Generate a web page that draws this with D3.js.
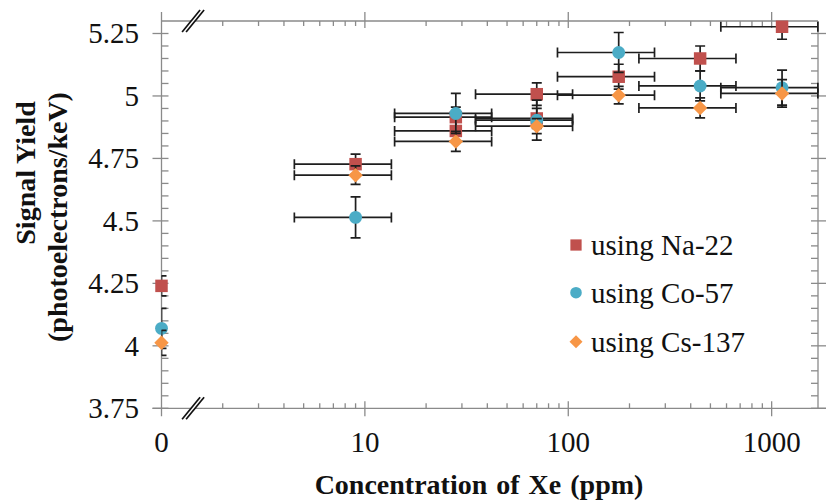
<!DOCTYPE html>
<html><head><meta charset="utf-8">
<script src="https://cdn.jsdelivr.net/npm/d3@7"></script>
<style>body{margin:0;background:#fff}svg{display:block}</style>
</head><body><svg id="c" width="828" height="504"></svg>
<script>
// ---- data ----
const xTickValues = [0, 10, 100, 1000];
const xTickLabels = ["0", "10", "100", "1000"];
const yTickValues = [3.75, 4, 4.25, 4.5, 4.75, 5, 5.25];
const yTickLabels = ["3.75", "4", "4.25", "4.5", "4.75", "5", "5.25"];
const seriesNames = ["using Na-22", "using Co-57", "using Cs-137"];
const naX = [0, 9, 28, 28, 70, 70, 177, 445, 1125];
const naY = [4.24, 4.727, 4.915, 4.86, 5.007, 4.91, 5.077, 5.15, 5.277];
const naErr = [0.04, 0.04, 0.04, 0.04, 0.045, 0.04, 0.05, 0.05, 0.05];
const coX = [0, 9, 28, 70, 177, 445, 1125];
const coY = [4.07, 4.514, 4.93, 4.903, 5.174, 5.04, 5.033];
const coErr = [0.08, 0.082, 0.08, 0.08, 0.08, 0.06, 0.07];
const csX = [0, 9, 28, 70, 177, 445, 1125];
const csY = [4.012, 4.683, 4.818, 4.879, 5.003, 4.952, 5.01];
const csErr = [0.05, 0.037, 0.04, 0.03, 0.035, 0.04, 0.055];
const xRelErr = 0.5;

// ---- layout ----
const FONT = "Liberation Serif";
const L = 161.5, R = 818, T = 21, B = 408.3;
const svg = d3.select("#c");
const xLog = d3.scaleLog().domain([1, 1690]).range([L, R]);
const xPos = v => xLog(v <= 0 ? 1 : v);
const y = d3.scaleLinear().domain([3.75, 5.3]).range([B, T]);
const axisCol = "#8a8a8a";

const ax = svg.append("g").attr("stroke", axisCol).attr("stroke-width", 1.3).attr("fill", "none");
ax.append("line").attr("x1", L).attr("x2", L).attr("y1", T - 9).attr("y2", B + 8);
ax.append("line").attr("x1", R).attr("x2", R).attr("y1", T).attr("y2", B);
ax.append("line").attr("x1", L).attr("x2", R).attr("y1", T).attr("y2", T);
ax.append("line").attr("x1", L - 9).attr("x2", R + 8).attr("y1", B).attr("y2", B);

// y ticks every 0.05
for (let i = 0; i < 31; i++) {
  const v = 3.75 + i * 0.05, yy = y(v), major = i % 5 === 0;
  ax.append("line").attr("x1", major ? L - 9 : L).attr("x2", L + 7).attr("y1", yy).attr("y2", yy);
  ax.append("line").attr("x1", R - 7).attr("x2", major ? R + 8 : R).attr("y1", yy).attr("y2", yy);
}
// x ticks
const minorX = [];
[1, 10, 100].forEach(k => { for (let m = 2; m <= 9; m++) minorX.push(m * k); });
minorX.forEach(v => {
  const xx = xLog(v);
  ax.append("line").attr("x1", xx).attr("x2", xx).attr("y1", T).attr("y2", T + 5);
  ax.append("line").attr("x1", xx).attr("x2", xx).attr("y1", B - 5).attr("y2", B);
});
xTickValues.filter(v => v > 0).forEach(v => {
  const xx = xLog(v);
  ax.append("line").attr("x1", xx).attr("x2", xx).attr("y1", T - 9).attr("y2", T + 7);
  ax.append("line").attr("x1", xx).attr("x2", xx).attr("y1", B - 7).attr("y2", B + 8);
});

// axis break marks
const bx = xLog(1.43);
[T, B].forEach(by => {
  svg.append("polygon")
    .attr("points", `${bx - 11},${by + 11} ${bx + 7},${by - 11} ${bx + 11},${by - 11} ${bx - 7},${by + 11}`)
    .attr("fill", "#fff");
  [-2, 2].forEach(o => {
    svg.append("line").attr("x1", bx + o - 9).attr("y1", by + 11).attr("x2", bx + o + 9).attr("y2", by - 11)
      .attr("stroke", "#111").attr("stroke-width", 1.7);
  });
});

// tick labels
const lab = svg.append("g").style("font-family", FONT).style("font-size", "29px").attr("fill", "#111");
yTickValues.forEach((v, i) => lab.append("text").attr("x", 139).attr("y", y(v) + 10).attr("text-anchor", "end").text(yTickLabels[i]));
xTickValues.forEach((v, i) => lab.append("text").attr("x", xPos(v)).attr("y", 452).attr("text-anchor", "middle").text(xTickLabels[i]));

// titles
const tt = svg.append("g").style("font-family", FONT).style("font-weight", "bold").style("font-size", "28px").attr("fill", "#111");
tt.append("text").attr("x", 479).attr("y", 494).attr("text-anchor", "middle").attr("word-spacing", 2).text("Concentration of Xe (ppm)");
tt.append("text").attr("transform", "translate(35,173) rotate(-90)").attr("text-anchor", "middle").text("Signal Yield");
tt.append("text").attr("transform", "translate(67,217) rotate(-90)").attr("text-anchor", "middle").text("(photoelectrons/keV)");

// clip for error bars
svg.append("clipPath").attr("id", "pc").append("rect").attr("x", L).attr("y", T).attr("width", R - L + 1).attr("height", B - T);

const colors = ["#C0504D", "#4BACC6", "#F79646"];
const series = [
  {x: naX, y: naY, e: naErr, shape: "square"},
  {x: coX, y: coY, e: coErr, shape: "circle"},
  {x: csX, y: csY, e: csErr, shape: "diamond"}
];
function marker(g, shape, cx, cy, col, scale) {
  scale = scale || 1;
  if (shape === "square") {
    g.append("path").attr("d", d3.symbol(d3.symbolSquare, 156 * scale * scale)()).attr("transform", `translate(${cx},${cy})`).attr("fill", col);
  } else if (shape === "circle") {
    g.append("path").attr("d", d3.symbol(d3.symbolCircle, 130 * scale * scale)()).attr("transform", `translate(${cx},${cy})`).attr("fill", col);
  } else {
    g.append("path").attr("d", d3.symbol(d3.symbolSquare, 104 * scale * scale)()).attr("transform", `translate(${cx},${cy}) rotate(45)`).attr("fill", col);
  }
}
const cap = 5;
series.forEach((s, si) => {
  const eg = svg.append("g").attr("clip-path", "url(#pc)").attr("stroke", "#1e1e1e").attr("stroke-width", 1.7);
  s.x.forEach((xv, i) => {
    const cx = xPos(xv), cy = y(s.y[i]);
    const y1 = y(s.y[i] + s.e[i]), y2 = y(s.y[i] - s.e[i]);
    eg.append("line").attr("x1", cx).attr("x2", cx).attr("y1", y1).attr("y2", y2);
    eg.append("line").attr("x1", cx - cap).attr("x2", cx + cap).attr("y1", y1).attr("y2", y1);
    eg.append("line").attr("x1", cx - cap).attr("x2", cx + cap).attr("y1", y2).attr("y2", y2);
    if (xv > 0) {
      const xa = xPos(xv * (1 - xRelErr)), xb = xPos(xv * (1 + xRelErr));
      eg.append("line").attr("x1", xa).attr("x2", xb).attr("y1", cy).attr("y2", cy);
      eg.append("line").attr("x1", xa).attr("x2", xa).attr("y1", cy - cap).attr("y2", cy + cap);
      eg.append("line").attr("x1", xb).attr("x2", xb).attr("y1", cy - cap).attr("y2", cy + cap);
    }
  });
  const mg = svg.append("g");
  s.x.forEach((xv, i) => marker(mg, s.shape, xPos(xv), y(s.y[i]), colors[si]));
});

// legend
const lg = svg.append("g");
const legY = [245, 292.7, 341.7];
series.forEach((s, i) => {
  marker(lg, s.shape, 576, legY[i], colors[i], 0.9);
  lg.append("text").attr("x", 591).attr("y", legY[i] + 10)
    .style("font-family", FONT).style("font-size", "29px").attr("fill", "#111")
    .text(seriesNames[i]);
});
</script></body></html>
